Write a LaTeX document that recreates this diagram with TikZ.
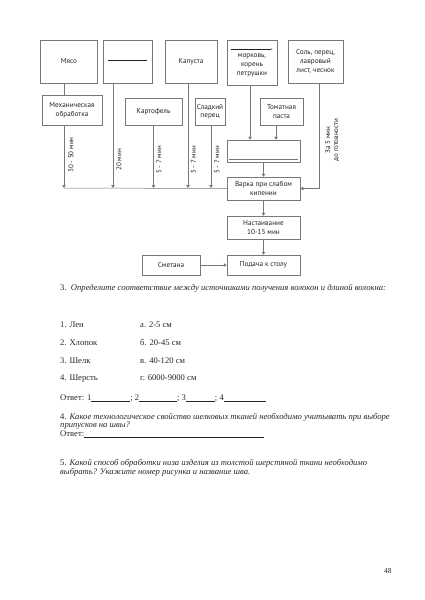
\documentclass[tikz,border=0pt]{standalone}
\usepackage{fontspec}
\setmainfont{Liberation Serif}
\newfontfamily\flowfont{PT Sans}
\usetikzlibrary{arrows.meta, positioning, calc}
\definecolor{linecolor}{RGB}{120, 120, 120}
\definecolor{textcolor}{RGB}{35, 35, 35}

\begin{document}
\begin{tikzpicture}[
    x=1pt, y=-1pt,
    >={Triangle[width=3.5pt, length=3pt]},
    box/.style={rectangle, draw=linecolor, line width=0.5pt, text=textcolor, align=center, font=\flowfont\fontsize{7.2}{8.6}\selectfont, inner sep=1pt},
    arrow/.style={->, draw=linecolor, line width=0.5pt},
    link/.style={draw=linecolor, line width=0.5pt},
    timelabel/.style={rotate=90, font=\flowfont\fontsize{7}{8}\selectfont, text=textcolor, align=center, inner sep=1pt},
    txt/.style={anchor=base west, font=\fontsize{8.6}{10}\selectfont, text=black!85, inner sep=0pt}
]
\useasboundingbox (0,0) rectangle (424,600);

% Top row
\node[box, minimum width=57pt, minimum height=43pt] (meat) at (69, 61.5) {Мясо};
\node[box, minimum width=49pt, minimum height=43pt] (blank) at (127.5, 61.5) {\rule[2pt]{39pt}{0.9pt}};
\node[box, minimum width=52pt, minimum height=43pt] (cabbage) at (191, 61.5) {Капуста};
\node[box, minimum width=50pt, minimum height=45pt] (roots) at (252, 62.5) {\rule{40pt}{0.6pt},\\морковь,\\корень\\петрушки};
\node[box, minimum width=55pt, minimum height=43pt] (spice) at (315.5, 61.5) {Соль, перец,\\лавровый\\лист, чеснок};

% Second row
\node[box, minimum width=60pt, minimum height=30pt] (mech) at (72, 110) {Механическая\\обработка};
\node[box, minimum width=57pt, minimum height=27pt] (potato) at (153.5, 111.5) {Картофель};
\node[box, minimum width=30pt, minimum height=27pt] (pepper) at (210, 111.5) {Сладкий\\перец};
\node[box, minimum width=43pt, minimum height=27pt] (tomato) at (281.5, 111.5) {Томатная\\паста};

% Main column
\node[box, minimum width=73pt, minimum height=22pt] (mix) at (263.5, 151) {};
\draw[linecolor, line width=1.2pt] ([xshift=2pt, yshift=3pt]mix.south west) -- ([xshift=-2pt, yshift=3pt]mix.south east);
\node[box, minimum width=73pt, minimum height=23pt] (boil) at (263.5, 188.5) {Варка при слабом\\кипении};
\node[box, minimum width=73pt, minimum height=23pt] (infuse) at (263.5, 227.5) {Настаивание\\10-15 мин};
\node[box, minimum width=73pt, minimum height=20pt] (serve) at (263.5, 265) {Подача к столу};
\node[box, minimum width=58pt, minimum height=20pt] (cream) at (171, 265) {Сметана};

% Collecting line
\coordinate (bus) at (64, 188);
\draw[link] (bus) -- (boil.west);

\draw[link] (meat.south -| bus) -- (mech.north -| bus);
\draw[arrow] (mech.south -| bus) -- (bus);
\node[timelabel] (t1) at (71, 155) {30 - 50 мин};

\draw[arrow] ([xshift=-14.5pt]blank.south) -- ([xshift=-14.5pt]blank.south |- bus);
\node[timelabel] (t2) at (119, 160) {20 мин};

\draw[arrow] (potato.south) -- (potato.south |- bus);
\node[timelabel] (t3) at (159, 160) {5 - 7 мин};

\draw[arrow] ([xshift=-3pt]cabbage.south) -- ([xshift=-3pt]cabbage.south |- bus);
\node[timelabel] (t4) at (193.5, 160) {5 - 7 мин};

\draw[arrow] ([xshift=1pt]pepper.south) -- ([xshift=1pt]pepper.south |- bus);
\node[timelabel] (t5) at (217, 160) {5 - 7 мин};

\draw[arrow] ([xshift=-2pt]roots.south) -- ([xshift=-2pt]roots.south |- mix.north);
\draw[arrow] ([xshift=-5.5pt]tomato.south) -- ([xshift=-5.5pt]tomato.south |- mix.north);
\draw[arrow] (mix) -- (boil);

\draw[arrow] ([xshift=3.5pt]spice.south) |- (boil.east);
\node[timelabel] (t6) at (332, 140) {За 5 мин\\до готовности};

\draw[arrow] (boil) -- (infuse);
\draw[arrow] (infuse) -- (serve);
\draw[arrow] (cream) -- (serve);

% Questions
\node[txt] (q3) at (60, 290) {3.\enspace\textit{Определите соответствие между источниками получения волокон и длиной волокна:}};
\foreach \n/\src/\len [count=\i] in {1/Лен/а. 2-5 см, 2/Хлопок/б. 20-45 см, 3/Шелк/в. 40-120 см, 4/Шерсть/г. 6000-9000 см} {
    \node[txt] (src\i) at (60, 310 + 17.7*\i) {\n. \src};
    \node[txt] (len\i) at (140, 310 + 17.7*\i) {\len};
}
\node[txt] (ans3) at (60, 400) {Ответ: 1\underline{\hspace{39pt}}; 2\underline{\hspace{38pt}}; 3\underline{\hspace{29pt}}; 4\underline{\hspace{42pt}}};
\node[txt] (q4a) at (60, 419) {4. \textit{Какое технологическое свойство шелковых тканей необходимо учитывать при выборе}};
\node[txt] (q4b) at (60, 427.5) {\textit{припусков на швы?}};
\node[txt] (ans4) at (60, 436) {Ответ:\underline{\hspace{180pt}}};
\node[txt] (q5a) at (60, 465) {5. \textit{Какой способ обработки низа изделия из толстой шерстяной ткани необходимо}};
\node[txt] (q5b) at (60, 474.5) {\textit{выбрать? Укажите номер рисунка и название шва.}};

% Page number
\node[txt, font=\fontsize{7.5}{8}\selectfont] (page) at (384, 573) {48};

\end{tikzpicture}
\end{document}
